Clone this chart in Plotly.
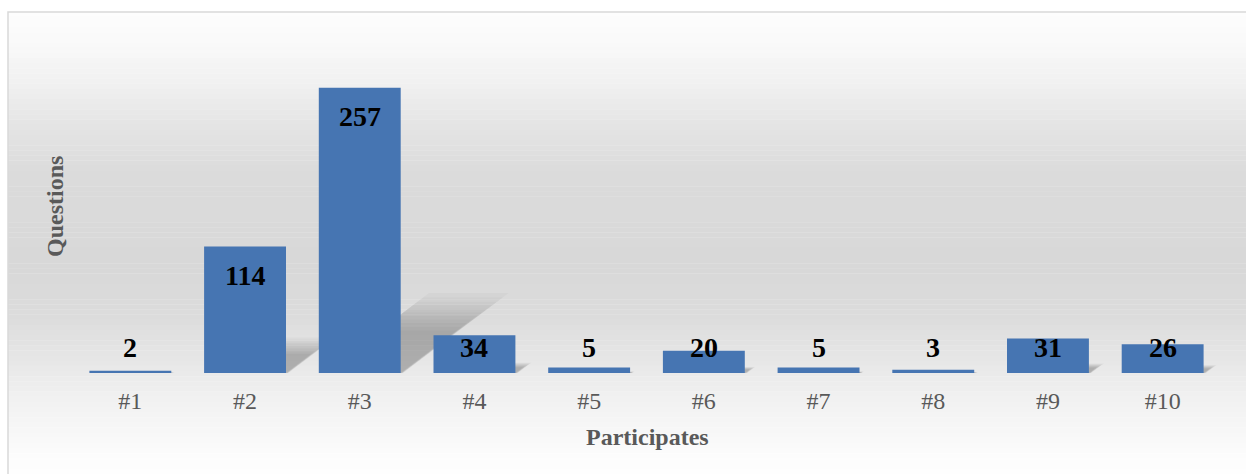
import plotly.graph_objects as go

categories = ["#1", "#2", "#3", "#4", "#5", "#6", "#7", "#8", "#9", "#10"]
questions = [2, 114, 257, 34, 5, 20, 5, 3, 31, 26]
x_title = "Participates"
y_title = "Questions"

W, H = 1246, 474
ML, MR, MT, MB = 73, 26, 40, 101
plot_h = H - MT - MB
YMAX = 300
px_per_unit = plot_h / YMAX
plot_w = W - ML - MR
px_per_cat = plot_w / len(categories)
base_px = H - MB

fig = go.Figure()

# background vertical gradient (paper coords, spanning the whole page)
stops = [(0.0, 253), (0.06, 250), (0.16, 240), (0.25, 228), (0.35, 219),
         (0.55, 216), (0.66, 220), (0.75, 230), (0.83, 240), (0.9, 247), (0.96, 252), (1.0, 254)]
def gray_at(t):
    for (t0, g0), (t1, g1) in zip(stops, stops[1:]):
        if t0 <= t <= t1:
            return g0 + (g1 - g0) * (t - t0) / (t1 - t0)
    return stops[-1][1]

top_px, bot_px = 12, H
n = 90
for k in range(n):
    y0px = top_px + (bot_px - top_px) * k / n
    y1px = top_px + (bot_px - top_px) * (k + 1) / n
    g = int(round(gray_at((k + 0.5) / n)))
    fig.add_shape(type="rect", xref="paper", yref="paper",
                  x0=(8 - ML) / plot_w, x1=(W + 5 - ML) / plot_w,
                  y0=(base_px - y1px) / plot_h, y1=(base_px - y0px) / plot_h + 0.001,
                  fillcolor=f"rgb({g},{g},{g})", line_width=0, layer="below")

# chart border (top and left visible)
fig.add_shape(type="rect", xref="paper", yref="paper",
              x0=(8 - ML) / plot_w, x1=(W + 5 - ML) / plot_w,
              y0=(base_px - (H + 5)) / plot_h, y1=(base_px - 12) / plot_h,
              line=dict(color="#d9d9d9", width=1.5), fillcolor="rgba(0,0,0,0)", layer="below")

# soft perspective shadows behind bars (derived from values)
half = 0.357
for i, v in enumerate(questions):
    hpx = v * px_per_unit
    dx = 0.33 * hpx / px_per_cat
    sh = 0.25 * v
    for s in [1.12, 1.06, 1.0, 0.95, 0.9, 0.85, 0.8, 0.75, 0.7, 0.65, 0.6]:
        x0 = i - half + 0.04
        x1 = i + half + 0.04 * (s - 0.55)
        path = (f"M {x0},0 L {x1},0 L {x1 + dx * s},{sh * s} L {x0 + dx * s},{sh * s} Z")
        fig.add_shape(type="path", path=path, xref="x", yref="y",
                      fillcolor="rgba(0,0,0,0.025)", line_width=0, layer="below")
    # faint ground shadow below each bar
    fig.add_shape(type="rect", xref="x", yref="y", x0=i - half, x1=i + half + 0.03,
                  y0=-4 / px_per_unit, y1=0, fillcolor="rgba(0,0,0,0.04)", line_width=0,
                  layer="below")

fig.add_trace(go.Bar(
    x=list(range(len(categories))), y=questions,
    marker=dict(color="#4675b2", line=dict(width=0)),
    width=0.714, hoverinfo="skip"))

# data labels: inside end, clamped to a minimum height
min_label = 23.4
for i, v in enumerate(questions):
    fig.add_annotation(x=i, y=max(v - 26, min_label), text=f"<b>{v}</b>",
                       showarrow=False, xref="x", yref="y", xanchor="center", yanchor="middle",
                       font=dict(family="Liberation Serif", size=28, color="#000000"))

fig.add_annotation(x=(647 - ML) / plot_w, xref="paper", y=(base_px - 437) / plot_h, yref="paper",
                   text=f"<b>{x_title}</b>", showarrow=False, xanchor="center", yanchor="middle",
                   font=dict(family="Liberation Serif", size=24, color="#595959"))
fig.add_annotation(x=(55 - ML) / plot_w, xref="paper", y=(base_px - 207) / plot_h, yref="paper",
                   text=f"<b>{y_title}</b>", showarrow=False, textangle=-90,
                   xanchor="center", yanchor="middle",
                   font=dict(family="Liberation Serif", size=24, color="#595959"))

fig.update_layout(
    width=W, height=H,
    margin=dict(l=ML, r=MR, t=MT, b=MB),
    paper_bgcolor="white", plot_bgcolor="rgba(0,0,0,0)",
    showlegend=False,
    xaxis=dict(tickmode="array", tickvals=list(range(len(categories))), ticktext=categories,
               range=[-0.5, len(categories) - 0.5], showgrid=False, zeroline=False,
               showline=False, ticks="outside", ticklen=6, tickcolor="rgba(0,0,0,0)",
               tickfont=dict(family="Liberation Serif", size=24, color="#595959")),
    yaxis=dict(range=[0, YMAX], visible=False),
)

fig.write_html("out.html")
